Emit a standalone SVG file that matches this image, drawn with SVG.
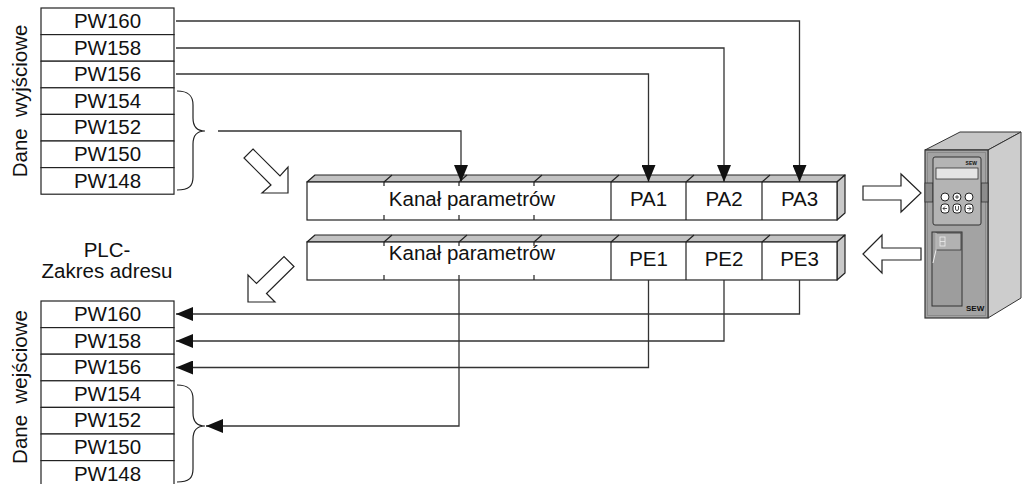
<svg xmlns="http://www.w3.org/2000/svg" width="1023" height="484" viewBox="0 0 1023 484">
  <defs>
    <marker id="tri" viewBox="0 0 17 14" refX="17" refY="7" markerWidth="17" markerHeight="14" markerUnits="userSpaceOnUse" orient="auto">
      <path d="M0,0 L17,7 L0,14 Z" fill="#111"/>
    </marker>
    <style>
      text { font-family: "Liberation Sans", Arial, sans-serif; fill: #111; }
      .t { font-size: 20.5px; text-anchor: middle; }
      .cell { fill: #fff; stroke: #222; stroke-width: 1.2; }
      .ln { fill: none; stroke: #222; stroke-width: 1.2; }
      .conn { fill: none; stroke: #333; stroke-width: 1.3; }
      .top { fill: #c2c2c2; stroke: #222; stroke-width: 1.2; stroke-linejoin: round; }
      .side { fill: #c9c9c9; stroke: #222; stroke-width: 1.2; stroke-linejoin: round; }
      .hollow { fill: #fff; stroke: #222; stroke-width: 1.2; stroke-linejoin: miter; }
    </style>
  </defs>

  <!-- output words -->
  <g id="out-table">
    <rect class="cell" x="41" y="8" width="133" height="26.6"/>
    <rect class="cell" x="41" y="34.6" width="133" height="26.6"/>
    <rect class="cell" x="41" y="61.2" width="133" height="26.6"/>
    <rect class="cell" x="41" y="87.8" width="133" height="26.6"/>
    <rect class="cell" x="41" y="114.4" width="133" height="26.6"/>
    <rect class="cell" x="41" y="141" width="133" height="26.6"/>
    <rect class="cell" x="41" y="167.6" width="133" height="26.6"/>
    <text class="t" x="107.5" y="28">PW160</text>
    <text class="t" x="107.5" y="54.6">PW158</text>
    <text class="t" x="107.5" y="81.2">PW156</text>
    <text class="t" x="107.5" y="107.8">PW154</text>
    <text class="t" x="107.5" y="134.4">PW152</text>
    <text class="t" x="107.5" y="161">PW150</text>
    <text class="t" x="107.5" y="187.6">PW148</text>
    <text class="t" transform="translate(27,101) rotate(-90)" x="0" y="0" xml:space="preserve">Dane  wyjściowe</text>
    <path class="ln" d="M177,91 C189,91 193,96 193,105 V118 C193,126 197,131 205,131 C197,131 193,136 193,144 V177 C193,186 189,190 177,190"/>
  </g>

  <!-- input words -->
  <g id="in-table">
    <rect class="cell" x="41" y="301" width="133" height="26.6"/>
    <rect class="cell" x="41" y="327.6" width="133" height="26.6"/>
    <rect class="cell" x="41" y="354.2" width="133" height="26.6"/>
    <rect class="cell" x="41" y="380.8" width="133" height="26.6"/>
    <rect class="cell" x="41" y="407.4" width="133" height="26.6"/>
    <rect class="cell" x="41" y="434" width="133" height="26.6"/>
    <rect class="cell" x="41" y="460.6" width="133" height="26.6"/>
    <text class="t" x="107.5" y="321">PW160</text>
    <text class="t" x="107.5" y="347.6">PW158</text>
    <text class="t" x="107.5" y="374.2">PW156</text>
    <text class="t" x="107.5" y="400.8">PW154</text>
    <text class="t" x="107.5" y="427.4">PW152</text>
    <text class="t" x="107.5" y="454">PW150</text>
    <text class="t" x="107.5" y="480.6">PW148</text>
    <text class="t" transform="translate(27,387) rotate(-90)" x="0" y="0" xml:space="preserve">Dane  wejściowe</text>
    <path class="ln" d="M177,385 C189,385 193,390 193,399 V413 C193,421 197,426 205,426 C197,426 193,431 193,439 V469 C193,478 189,482 177,482"/>
  </g>

  <g id="plc-label">
    <text class="t" x="107" y="257">PLC-</text>
    <text class="t" x="107" y="278">Zakres adresu</text>
  </g>

  <!-- output process data block -->
  <g id="pa-block">
    <polygon class="top" points="307,182 315,175 845,175 837,182"/>
    <polygon class="side" points="837,182 845,175 845,213 837,220"/>
    <rect class="cell" x="307" y="182" width="530" height="38"/>
    <path class="ln" d="M384,182 l8,-7 M459,182 l8,-7 M534,182 l8,-7 M611,182 l8,-7 M686,182 l8,-7 M762,182 l8,-7"/>
    <path class="ln" d="M384,182 v4 M459,182 v4 M534,182 v4 M384,220 v-5 M459,220 v-5 M534,220 v-5 M611,182 V220 M686,182 V220 M762,182 V220"/>
    <text class="t" x="472" y="206">Kanał parametrów</text>
    <text class="t" x="648.5" y="206">PA1</text>
    <text class="t" x="724" y="206">PA2</text>
    <text class="t" x="799.5" y="206">PA3</text>
  </g>

  <!-- input process data block -->
  <g id="pe-block">
    <polygon class="top" points="307,242 315,235 845,235 837,242"/>
    <polygon class="side" points="837,242 845,235 845,273 837,280"/>
    <rect class="cell" x="307" y="242" width="530" height="38"/>
    <path class="ln" d="M384,242 l8,-7 M459,242 l8,-7 M534,242 l8,-7 M611,242 l8,-7 M686,242 l8,-7 M762,242 l8,-7"/>
    <path class="ln" d="M384,242 v4 M459,242 v4 M534,242 v4 M384,280 v-5 M459,280 v-5 M534,280 v-5 M611,242 V280 M686,242 V280 M762,242 V280"/>
    <text class="t" x="472" y="260">Kanał parametrów</text>
    <text class="t" x="648.5" y="266">PE1</text>
    <text class="t" x="724" y="266">PE2</text>
    <text class="t" x="799.5" y="266">PE3</text>
  </g>

  <!-- hollow direction arrows -->
  <g id="flow-arrows">
    <polygon class="hollow" points="253,149 280,176 288,167 288,193 262,193 271,185 244,158"/>
    <polygon class="hollow" points="248,302 248,275 256.5,283.5 284,256.5 294,266.5 266.5,293.5 275,302"/>
    <polygon class="hollow" points="863,186 901,186 901,174 921,193 901,212 901,200 863,200"/>
    <polygon class="hollow" points="863,254 882,235 882,248 921,248 921,260 882,260 882,273"/>
  </g>

  <!-- inverter -->
  <g id="inverter">
    <polygon points="925,150 960,132 1021,132 988,150" fill="#c6c6c6" stroke="#333" stroke-width="1"/>
    <polygon points="988,150 1021,132 1021,298 988,318" fill="#cdcdcd" stroke="#333" stroke-width="1"/>
    <rect x="925" y="150" width="63" height="168" fill="#a3a3a3" stroke="#333" stroke-width="1.2"/>
    <rect x="927.5" y="152.5" width="58" height="163" fill="none" stroke="#8a8a8a" stroke-width="1"/>
    <rect x="925" y="183" width="8" height="19" fill="#8c8c8c" stroke="#333" stroke-width="0.8"/>
    <rect x="981" y="183" width="7" height="19" fill="#8c8c8c" stroke="#333" stroke-width="0.8"/>
    <rect x="933" y="157" width="48" height="68" rx="2" fill="#b4b4b4" stroke="#333" stroke-width="1"/>
    <rect x="936" y="168" width="42" height="11" fill="#e4e4e4" stroke="#333" stroke-width="0.8"/>
    <text x="977" y="165" font-size="5" font-weight="bold" text-anchor="end">SEW</text>
    <circle cx="945" cy="197" r="4" fill="#fff" stroke="#222" stroke-width="1"/>
    <circle cx="957" cy="197" r="4" fill="#fff" stroke="#222" stroke-width="1"/>
    <circle cx="969" cy="197" r="4" fill="#fff" stroke="#222" stroke-width="1"/>
    <path d="M955,197 h4 M957,195 v4" stroke="#222" stroke-width="0.8"/>
    <rect x="941" y="204" width="8" height="9" rx="3" fill="#fff" stroke="#222" stroke-width="1"/>
    <rect x="953" y="204" width="8" height="9" rx="3" fill="#fff" stroke="#222" stroke-width="1"/>
    <rect x="965" y="204" width="8" height="9" rx="3" fill="#fff" stroke="#222" stroke-width="1"/>
    <path d="M947,208.5 h-4 m2,-2 l-2,2 l2,2 M967,208.5 h4 m-2,-2 l2,2 l-2,2 M955.5,206 v3 a1.5,1.5 0 0 0 3,0 v-3" fill="none" stroke="#222" stroke-width="0.8"/>
    <rect x="932" y="232" width="30" height="74" fill="#9d9d9d" stroke="#333" stroke-width="1"/>
    <rect x="936" y="233" width="25" height="17" fill="#b2b2b2" stroke="#333" stroke-width="0.8"/>
    <rect x="940" y="237" width="5" height="9" fill="none" stroke="#eee" stroke-width="0.8"/>
    <path d="M940,241.5 h5" stroke="#eee" stroke-width="0.8"/>
    <path d="M936,233 V250 L933,263" fill="none" stroke="#eee" stroke-width="1"/>
    <text x="966" y="311" font-size="8" font-weight="bold">SEW</text>
  </g>

  <!-- process data connectors -->
  <g id="connectors">
    <path class="conn" d="M176,21 H799.5 V182" marker-end="url(#tri)"/>
    <path class="conn" d="M176,48 H724 V182" marker-end="url(#tri)"/>
    <path class="conn" d="M176,74 H648.5 V182" marker-end="url(#tri)"/>
    <path class="conn" d="M218,131 H461 V182" marker-end="url(#tri)"/>
    <path class="conn" d="M799.5,280 V314 H176" marker-end="url(#tri)"/>
    <path class="conn" d="M724,280 V341 H176" marker-end="url(#tri)"/>
    <path class="conn" d="M648.5,280 V367.5 H176" marker-end="url(#tri)"/>
    <path class="conn" d="M459,280 V426 H206" marker-end="url(#tri)"/>
  </g>
</svg>
